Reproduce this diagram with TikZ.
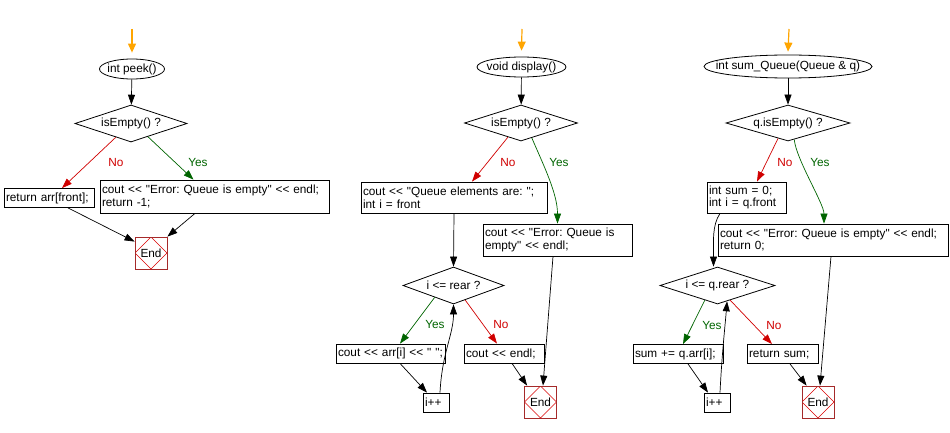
\documentclass[tikz,border=0pt]{standalone}
\usepackage{fontspec}
\newfontfamily\chartfont{Liberation Sans}
\usetikzlibrary{shapes.geometric, arrows.meta, calc}

\definecolor{noRed}{HTML}{D00000}
\definecolor{yesGreen}{HTML}{006400}
\definecolor{entryOrange}{HTML}{FFA500}
\definecolor{endBrown}{HTML}{A52A2A}

\tikzset{
  chart/.style={font=\chartfont\fontsize{11.8}{12.7}\selectfont\frenchspacing},
  func/.style={chart, draw, ellipse, inner xsep=-30pt, inner ysep=0pt, line width=0.8pt},
  decision/.style={chart, draw, diamond, aspect=3, inner sep=0pt, line width=0.8pt},
  stmt/.style={chart, draw, rectangle, align=left, inner xsep=2pt, inner ysep=0pt, minimum height=19, line width=0.8pt},
  endbox/.style={chart, draw=endBrown, rectangle, minimum width=32, minimum height=32, inner sep=0pt, line width=0.8pt,
    path picture={\draw[red!85!black, line width=0.6pt] (path picture bounding box.north) -- (path picture bounding box.east) -- (path picture bounding box.south) -- (path picture bounding box.west) -- cycle;}},
  link/.style={line width=0.7pt, -{Triangle[length=10pt, width=7pt]}},
  nolink/.style={link, noRed},
  yeslink/.style={link, yesGreen},
  entry/.style={line width=1.2pt, entryOrange, -{Triangle[length=9pt, width=8pt]}},
  nolabel/.style={chart, text=noRed},
  yeslabel/.style={chart, text=yesGreen},
}

\begin{document}
\begin{tikzpicture}[x=1pt, y=-1pt]
\useasboundingbox (0,0) rectangle (950,433);

% int peek()
\coordinate (pIn) at (132,29);
\node[func, minimum width=65, minimum height=20] (pFun) at (132,69) {int peek()};
\node[decision, minimum width=112, minimum height=37] (pTest) at (131,123.5) {isEmpty() ?};
\node[stmt, text width=86] (pRet) at (49,198) {return arr[front];};
\node[stmt, text width=225, minimum height=33] (pErr) at (214.5,196.5) {cout << "Error: Queue is empty" << endl;\\return -1;};
\node[endbox] (pEnd) at (151,253) {End};
\node[nolabel] (pNo) at (116,162) {No};
\node[yeslabel] (pYes) at (198,162) {Yes};

\draw[entry] (pIn) -- ([yshift=6pt]pFun.north);
\draw[link] (pFun) -- (pTest);
\draw[nolink] ($(pTest.south)!.27!(pTest.west)$) -- ([xshift=13pt]pRet.north);
\draw[yeslink] ($(pTest.south)!.3!(pTest.east)$) -- ([xshift=-21pt]pErr.north);
\draw[link] ([xshift=19pt]pRet.south) -- ([yshift=-5pt]pEnd.north west);
\draw[link] ([xshift=-19.5pt]pErr.south) -- (pEnd.north east);

% void display()
\coordinate (dIn) at (522,29);
\node[func, minimum width=89, minimum height=20] (dFun) at (521.5,67) {void display()};
\node[decision, minimum width=113, minimum height=36] (dTest) at (521,123) {isEmpty() ?};
\node[stmt, text width=182, minimum height=31] (dInit) at (454,197.5) {cout << "Queue elements are: ";\\int i = front};
\node[stmt, text width=145, minimum height=32] (dErr) at (557.5,240) {cout << "Error: Queue is\\empty" << endl;};
\node[decision, minimum width=101, minimum height=37] (dLoop) at (453.5,285.5) {i <= rear ?};
\node[stmt, text width=105] (dOut) at (390.5,353.5) {cout << arr[i] << " ";};
\node[stmt, text width=76] (dEndl) at (504,353.5) {cout << endl;};
\node[stmt, text width=22] (dInc) at (436,402.5) {i++};
\node[endbox] (dEnd) at (540.5,402) {End};
\node[nolabel] (dNo) at (508,162) {No};
\node[yeslabel] (dYes) at (559,162) {Yes};
\node[yeslabel] (dLoopYes) at (435,324) {Yes};
\node[nolabel] (dLoopNo) at (501,324) {No};

\draw[entry] (dIn) -- ([yshift=6pt]dFun.north);
\draw[link] (dFun) -- (dTest);
\draw[nolink] ($(dTest.south)!.23!(dTest.west)$) -- ([xshift=18pt]dInit.north);
\draw[yeslink] ($(dTest.south)!.19!(dTest.east)$) .. controls +(12,28) and +(0,-30) .. (dErr.north);
\draw[link] (dInit.south) -- (dLoop.north);
\draw[yeslink] ($(dLoop.south)!.37!(dLoop.west)$) -- ([xshift=9.5pt]dOut.north);
\draw[nolink] ($(dLoop.south)!.23!(dLoop.east)$) -- ([xshift=-7pt]dEndl.north);
\draw[link] ([xshift=9.5pt]dOut.south) -- ([xshift=-9pt]dInc.north);
\draw[link] ([xshift=4pt]dInc.north) .. controls +(2,-40) and +(0,30) .. (dLoop.south);
\draw[link] ([xshift=8pt]dEndl.south) -- ([xshift=3pt]dEnd.north west);
\draw[link] ([xshift=-4.5pt]dErr.south) -- ([xshift=2.5pt]dEnd.north);

% int sum_Queue(Queue & q)
\coordinate (sIn) at (789,29);
\node[func, minimum width=168, minimum height=23] (sFun) at (788,66.5) {int sum\_Queue(Queue \& q)};
\node[decision, minimum width=124, minimum height=36] (sTest) at (788,123) {q.isEmpty() ?};
\node[stmt, text width=75, minimum height=31] (sInit) at (746.5,197.5) {int sum = 0;\\int i = q.front};
\node[stmt, text width=226, minimum height=32] (sErr) at (833,240) {cout << "Error: Queue is empty" << endl;\\return 0;};
\node[decision, minimum width=115, minimum height=37] (sLoop) at (717.5,285.5) {i <= q.rear ?};
\node[stmt, text width=86] (sAdd) at (678,354) {sum += q.arr[i];};
\node[stmt, text width=67] (sRet) at (782.5,354) {return sum;};
\node[stmt, text width=22] (sInc) at (717,402.5) {i++};
\node[endbox] (sEnd) at (818,402) {End};
\node[nolabel] (sNo) at (785,162) {No};
\node[yeslabel] (sYes) at (820,162) {Yes};
\node[yeslabel] (sLoopYes) at (712,325) {Yes};
\node[nolabel] (sLoopNo) at (774,325) {No};

\draw[entry] (sIn) -- ([yshift=3pt]sFun.north);
\draw[link] (sFun) -- (sTest);
\draw[nolink] ($(sTest.south)!.16!(sTest.west)$) -- ([xshift=10.5pt]sInit.north);
\draw[yeslink] ($(sTest.south)!.1!(sTest.east)$) .. controls +(2,20) and +(0,-20) .. ([xshift=-9pt]sErr.north);
\draw[link] ([xshift=-26.5pt]sInit.south) .. controls +(-8,12) and +(0,-25) .. ([xshift=-4pt]sLoop.north);
\draw[yeslink] ($(sLoop.south)!.22!(sLoop.west)$) -- ([xshift=5pt]sAdd.north);
\draw[nolink] ($(sLoop.south)!.22!(sLoop.east)$) -- ([xshift=-10.5pt]sRet.north);
\draw[link] ([xshift=10pt]sAdd.south) -- ([xshift=-9pt]sInc.north);
\draw[link] ([xshift=3pt]sInc.north) .. controls +(2,-40) and +(-2,25) .. ($(sLoop.south)!.165!(sLoop.east)$);
\draw[link] ([xshift=7.5pt]sRet.south) -- ([xshift=5pt]sEnd.north west);
\draw[link] ([xshift=-2pt]sErr.south) -- ([xshift=2pt]sEnd.north);
\end{tikzpicture}
\end{document}
